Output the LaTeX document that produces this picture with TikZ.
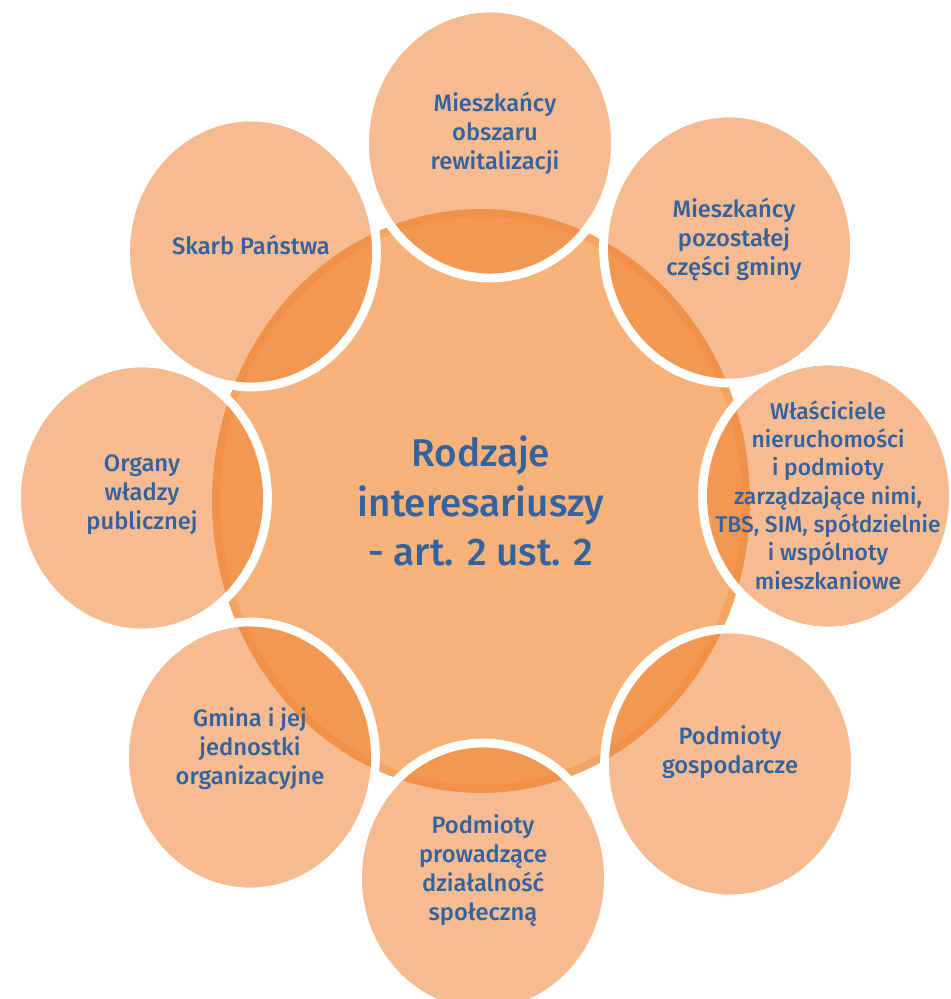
\documentclass[tikz,border=0pt]{standalone}
\usepackage{fontspec}
\usepackage{tikz}
\usetikzlibrary{positioning}
\usetikzlibrary{shapes.geometric}

\newfontfamily\labelfont{Fira Sans Medium}
\newcommand\petalfont{\labelfont\fontsize{13.5}{16.5}\selectfont}
\newcommand\hubfont{\labelfont\fontsize{22}{28}\selectfont}

\definecolor{hubfill}{RGB}{247,178,122}
\definecolor{hubring}{RGB}{244,163,98}
\definecolor{petalfill}{RGB}{240,130,50}
\definecolor{labelblue}{RGB}{50,98,160}

\tikzset{
  hub/.style={ellipse, fill=hubfill, draw=hubring, line width=0.16cm,
    minimum width=10.6cm, minimum height=11.52cm, inner sep=0pt,
    align=center, text=labelblue, font=\hubfont},
  petal/.style={ellipse, fill=petalfill, fill opacity=0.54,
    draw=white, line width=5pt, minimum width=5.02cm, minimum height=5.4cm,
    inner sep=0pt},
  petaltext/.style={align=center, text=labelblue, font=\petalfont, inner sep=0pt},
}

\begin{document}
\begin{tikzpicture}[x=0.02cm,y=-0.02cm]
\fill[white] (0,0) rectangle (950,999);
\useasboundingbox (0,0) rectangle (950,999);

\node[hub](hub) at (481,501){Rodzaje\\interesariuszy\\- art. 2 ust. 2};

% circles round the hub
\node[petal](obszar) at (490,143){};
\node[petal](gmina) at (729,248){};
\node[petal](wlasciciele) at (828,496){};
\node[petal](gospodarcze) at (730,764){};
\node[petal](spoleczne) at (483,878){};
\node[petal](jednostki) at (250,757){};
\node[petal](organy) at (142,498){};
\node[petal](skarb) at (251,252){};

% their texts
\node[petaltext](obszarTxt) at ([xshift=0.1cm,yshift=0.2cm]obszar.center){Mieszkańcy\\obszaru\\rewitalizacji};
\node[petaltext](gminaTxt) at ([xshift=0.1cm,yshift=0.16cm]gmina.center){Mieszkańcy\\pozostałej\\części gminy};
\node[petaltext,font={\labelfont\fontsize{13}{16.1}\selectfont}](wlascicieleTxt) at ([yshift=0.02cm]wlasciciele.center){Właściciele\\nieruchomości\\i podmioty\\zarządzające nimi,\\TBS, SIM, spółdzielnie\\i wspólnoty\\mieszkaniowe};
\node[petaltext](gospodarczeTxt) at ([yshift=0.24cm]gospodarcze.center){Podmioty\\gospodarcze};
\node[petaltext](spoleczneTxt) at ([yshift=0.14cm]spoleczne.center){Podmioty\\prowadzące\\działalność\\społeczną};
\node[petaltext](jednostkiTxt) at ([yshift=0.16cm]jednostki.center){Gmina i jej\\jednostki\\organizacyjne};
\node[petaltext](organyTxt) at ([yshift=0.06cm]organy.center){Organy\\władzy\\publicznej};
\node[petaltext](skarbTxt) at ([yshift=0.14cm]skarb.center){Skarb Państwa};
\end{tikzpicture}
\end{document}
